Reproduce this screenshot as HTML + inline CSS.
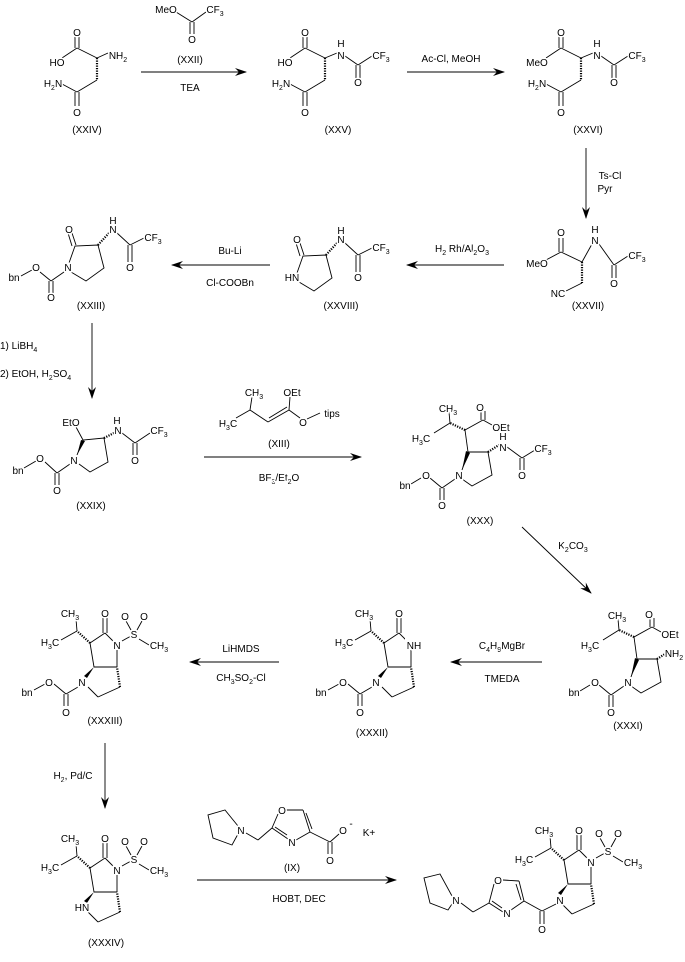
<!DOCTYPE html>
<html><head><meta charset="utf-8"><style>
html,body{margin:0;padding:0;background:#fff;}
svg{display:block;}
text{font-family:"Liberation Sans",sans-serif;font-size:10px;fill:#000;text-anchor:middle;stroke:#fff;stroke-width:3px;paint-order:stroke;}
line,polyline,path{stroke:#000;stroke-width:0.9;fill:none;}
.w{fill:#000;stroke:none;}
.h{stroke-dasharray:1.2 1.3;stroke-width:2.2;}
</style></head><body>
<svg width="685" height="962" viewBox="0 0 685 962" xmlns="http://www.w3.org/2000/svg">
<defs>
<marker id="ah" markerWidth="12" markerHeight="8" refX="11" refY="4" orient="auto" markerUnits="userSpaceOnUse"><path d="M0,0 L12,4 L0,8 L4,4 Z" style="fill:#000;stroke:none"/></marker>
</defs>

<line x1="141" y1="72" x2="246" y2="72" marker-end="url(#ah)"/>
<line x1="407" y1="72" x2="504" y2="72" marker-end="url(#ah)"/>
<line x1="586" y1="148" x2="586" y2="218" marker-end="url(#ah)"/>
<line x1="504" y1="265" x2="407" y2="265" marker-end="url(#ah)"/>
<line x1="270" y1="265" x2="172" y2="265" marker-end="url(#ah)"/>
<line x1="92" y1="323" x2="92" y2="398" marker-end="url(#ah)"/>
<line x1="204" y1="457" x2="361" y2="457" marker-end="url(#ah)"/>
<line x1="522" y1="527" x2="591" y2="593" marker-end="url(#ah)"/>
<line x1="542" y1="662" x2="451" y2="662" marker-end="url(#ah)"/>
<line x1="279" y1="662" x2="190" y2="662" marker-end="url(#ah)"/>
<line x1="105" y1="743" x2="105" y2="808" marker-end="url(#ah)"/>
<line x1="197" y1="880" x2="396" y2="880" marker-end="url(#ah)"/>

<text x="190" y="63">(XXII)</text>
<text x="190" y="91">TEA</text>
<text x="451" y="62">Ac-Cl,  MeOH</text>
<text x="610" y="179">Ts-Cl</text>
<text x="605" y="192">Pyr</text>
<text x="462" y="252">H<tspan font-size="7" dy="3">2</tspan><tspan dy="-3"> Rh/Al</tspan><tspan font-size="7" dy="3">2</tspan><tspan dy="-3">O</tspan><tspan font-size="7" dy="3">3</tspan></text>
<text x="230" y="254">Bu-Li</text>
<text x="230" y="286">Cl-COOBn</text>
<text x="0" y="349" style="text-anchor:start">1) LiBH<tspan font-size="7" dy="3">4</tspan></text>
<text x="0" y="377" style="text-anchor:start">2) EtOH, H<tspan font-size="7" dy="3">2</tspan><tspan dy="-3">SO</tspan><tspan font-size="7" dy="3">4</tspan></text>
<text x="279" y="447">(XIII)</text>
<text x="279" y="481">BF<tspan font-size="7" dy="3">3</tspan><tspan dy="-3">/Et</tspan><tspan font-size="7" dy="3">2</tspan><tspan dy="-3">O</tspan></text>
<text x="573" y="549">K<tspan font-size="7" dy="3">2</tspan><tspan dy="-3">CO</tspan><tspan font-size="7" dy="3">3</tspan></text>
<text x="502" y="649">C<tspan font-size="7" dy="3">4</tspan><tspan dy="-3">H</tspan><tspan font-size="7" dy="3">9</tspan><tspan dy="-3">MgBr</tspan></text>
<text x="502" y="682">TMEDA</text>
<text x="241" y="652">LiHMDS</text>
<text x="241" y="681">CH<tspan font-size="7" dy="3">3</tspan><tspan dy="-3">SO</tspan><tspan font-size="7" dy="3">2</tspan><tspan dy="-3">-Cl</tspan></text>
<text x="73" y="779">H<tspan font-size="7" dy="3">2</tspan><tspan dy="-3">, Pd/C</tspan></text>
<text x="299" y="902">HOBT, DEC</text>

<line x1="176" y1="12" x2="192" y2="22"/><line x1="192" y1="22" x2="206" y2="12"/>
<line x1="190" y1="22" x2="190" y2="34"/><line x1="194" y1="22" x2="194" y2="34"/>
<text x="166" y="13">MeO</text>
<text x="215" y="13">CF<tspan font-size="7" dy="3">3</tspan></text>
<text x="192" y="43">O</text>

<g id="aa">
<line x1="75" y1="36" x2="75" y2="48"/><line x1="79" y1="36" x2="79" y2="48"/>
<line x1="77" y1="48" x2="62" y2="58"/>
<line x1="77" y1="48" x2="97" y2="58"/>
<line class="h" x1="97" y1="58" x2="97" y2="80"/>
<line x1="97" y1="80" x2="77" y2="92"/>
<line x1="77" y1="92" x2="62" y2="84"/>
<line x1="75" y1="92" x2="75" y2="106"/><line x1="79" y1="92" x2="79" y2="106"/>
<text x="77" y="36">O</text>
<text x="53" y="87">H<tspan font-size="7" dy="3">2</tspan><tspan dy="-3">N</tspan></text>
<text x="77" y="116">O</text>
</g>
<line x1="97" y1="58" x2="108" y2="53"/>
<text x="57" y="66">HO</text>
<text x="118" y="59">NH<tspan font-size="7" dy="3">2</tspan></text>
<text x="87" y="133">(XXIV)</text>

<use href="#aa" x="228" y="0"/>
<text x="285" y="66">HO</text>
<g id="tfa">
<line x1="325" y1="58" x2="337" y2="53"/>
<line x1="345" y1="56" x2="358" y2="65"/>
<line x1="358" y1="65" x2="372" y2="56"/>
<line x1="356" y1="65" x2="356" y2="78"/><line x1="360" y1="65" x2="360" y2="78"/>
<text x="341" y="47">H</text>
<text x="341" y="59">N</text>
<text x="381" y="59">CF<tspan font-size="7" dy="3">3</tspan></text>
<text x="358" y="86">O</text>
</g>
<text x="338" y="133">(XXV)</text>

<use href="#aa" x="484" y="0"/>
<use href="#tfa" x="256" y="0"/>
<text x="537" y="66">MeO</text>
<text x="588" y="133">(XXVI)</text>

<line x1="559" y1="238" x2="559" y2="252"/><line x1="563" y1="238" x2="563" y2="252"/>
<line x1="561" y1="252" x2="546" y2="260"/>
<line x1="561" y1="252" x2="582" y2="262"/>
<line x1="582" y1="262" x2="592" y2="244"/>
<line class="h" x1="582" y1="262" x2="582" y2="283"/>
<line x1="582" y1="283" x2="566" y2="291"/>
<line x1="599" y1="244" x2="614" y2="265"/>
<line x1="614" y1="265" x2="628" y2="256"/>
<line x1="612" y1="265" x2="612" y2="278"/><line x1="616" y1="265" x2="616" y2="278"/>
<text x="561" y="236">O</text>
<text x="595" y="233">H</text>
<text x="595" y="244">N</text>
<text x="637" y="259">CF<tspan font-size="7" dy="3">3</tspan></text>
<text x="537" y="267">MeO</text>
<text x="614" y="287">O</text>
<text x="558" y="297">NC</text>
<text x="588" y="309">(XXVII)</text>

<g id="lac">
<polyline points="297,273 303,256 326,255 332,278 314,291 299,282"/>
<line x1="300" y1="256" x2="296" y2="243"/><line x1="304" y1="255" x2="300" y2="243"/>
<line class="h" x1="326" y1="255" x2="337" y2="243"/>
<line x1="345" y1="243" x2="358" y2="255"/>
<line x1="358" y1="255" x2="372" y2="248"/>
<line x1="356" y1="255" x2="356" y2="272"/><line x1="360" y1="255" x2="360" y2="272"/>
<text x="297" y="243">O</text>
<text x="341" y="234">H</text>
<text x="341" y="243">N</text>
<text x="381" y="251">CF<tspan font-size="7" dy="3">3</tspan></text>
<text x="358" y="281">O</text>
</g>
<text x="292" y="281">HN</text>
<text x="341" y="309">(XXVIII)</text>

<use href="#lac" x="-228" y="-10"/>
<text x="68" y="271">N</text>
<line x1="64" y1="272" x2="51" y2="281"/>
<line x1="51" y1="281" x2="40" y2="272"/>
<line x1="32" y1="270" x2="21" y2="276"/>
<line x1="49" y1="281" x2="49" y2="293"/><line x1="53" y1="281" x2="53" y2="293"/>
<text x="36" y="271">O</text>
<text x="14" y="281">bn</text>
<text x="51" y="301">O</text>
<text x="91" y="309">(XXIII)</text>

<polyline points="77,455 83,440 104,438 108,462 90,472 79,464"/>
<path class="w" d="M77,455 L81,440 L85,441 Z"/>
<line x1="83" y1="440" x2="76" y2="427"/>
<line class="h" x1="104" y1="438" x2="114" y2="433"/>
<line x1="122" y1="433" x2="135" y2="443"/>
<line x1="135" y1="443" x2="150" y2="433"/>
<line x1="133" y1="443" x2="133" y2="455"/><line x1="137" y1="443" x2="137" y2="455"/>
<line x1="70" y1="464" x2="57" y2="473"/>
<line x1="57" y1="473" x2="45" y2="462"/>
<line x1="36" y1="461" x2="24" y2="468"/>
<line x1="55" y1="473" x2="55" y2="485"/><line x1="59" y1="473" x2="59" y2="485"/>
<text x="71" y="426">EtO</text>
<text x="117" y="424">H</text>
<text x="118" y="434">N</text>
<text x="159" y="434">CF<tspan font-size="7" dy="3">3</tspan></text>
<text x="135" y="464">O</text>
<text x="74" y="464">N</text>
<text x="40" y="462">O</text>
<text x="18" y="474">bn</text>
<text x="57" y="494">O</text>
<text x="91" y="509">(XXIX)</text>

<line x1="236" y1="418" x2="250" y2="410"/>
<line x1="250" y1="410" x2="252" y2="397"/>
<line x1="250" y1="410" x2="268" y2="422"/>
<line x1="268" y1="422" x2="289" y2="410"/><line x1="269" y1="418" x2="287" y2="407"/>
<line x1="289" y1="410" x2="290" y2="397"/>
<line x1="289" y1="410" x2="300" y2="418"/>
<line x1="307" y1="419" x2="320" y2="413"/>
<text x="254" y="396">CH<tspan font-size="7" dy="3">3</tspan></text>
<text x="292" y="396">OEt</text>
<text x="228" y="427">H<tspan font-size="7" dy="3">3</tspan><tspan dy="-3">C</tspan></text>
<text x="303" y="426">O</text>
<text x="332" y="417">tips</text>

<g id="core">
<polyline points="462,470 468,452 488,452 492,475 472,486 462,479"/>
<path class="w" d="M462,470 L466,451 L470,453 Z"/>
<line x1="468" y1="452" x2="465" y2="430"/>
<line x1="465" y1="430" x2="483" y2="420"/>
<line x1="481" y1="420" x2="481" y2="411"/><line x1="485" y1="420" x2="485" y2="411"/>
<line x1="483" y1="420" x2="492" y2="425"/>
<line class="h" x1="465" y1="430" x2="450" y2="423"/>
<line x1="450" y1="423" x2="449" y2="412"/>
<line x1="450" y1="423" x2="434" y2="433"/>
<line x1="455" y1="479" x2="442" y2="488"/>
<line x1="442" y1="488" x2="430" y2="478"/>
<line x1="421" y1="478" x2="411" y2="484"/>
<line x1="440" y1="488" x2="440" y2="500"/><line x1="444" y1="488" x2="444" y2="500"/>
<text x="448" y="412">CH<tspan font-size="7" dy="3">3</tspan></text>
<text x="480" y="411">O</text>
<text x="501" y="431">OEt</text>
<text x="421" y="442">H<tspan font-size="7" dy="3">3</tspan><tspan dy="-3">C</tspan></text>
<text x="459" y="479">N</text>
<text x="426" y="479">O</text>
<text x="405" y="489">bn</text>
<text x="442" y="509">O</text>
</g>
<line class="h" x1="488" y1="452" x2="499" y2="445"/>
<line x1="507" y1="447" x2="522" y2="458"/>
<line x1="522" y1="458" x2="535" y2="450"/>
<line x1="520" y1="458" x2="520" y2="470"/><line x1="524" y1="458" x2="524" y2="470"/>
<text x="503" y="440">H</text>
<text x="503" y="451">N</text>
<text x="543" y="452">CF<tspan font-size="7" dy="3">3</tspan></text>
<text x="522" y="479">O</text>
<text x="480" y="524">(XXX)</text>

<use href="#core" x="169" y="207"/>
<line class="h" x1="657" y1="659" x2="665" y2="654"/>
<text x="674" y="657">NH<tspan font-size="7" dy="3">2</tspan></text>
<text x="628" y="729">(XXXI)</text>

<g id="bic" transform="translate(117,645)">
<line x1="-4" y1="-4" x2="-12" y2="-12"/>
<line x1="-14" y1="-12" x2="-14" y2="-27"/><line x1="-10" y1="-12" x2="-10" y2="-27"/>
<line x1="-12" y1="-12" x2="-27" y2="-2"/>
<line x1="-27" y1="-2" x2="-23" y2="22"/>
<line x1="-23" y1="22" x2="0" y2="22"/>
<line x1="0" y1="22" x2="0" y2="5"/>
<path class="w" d="M-23,22 L-33,31 L-30,33 Z"/>
<line x1="-29" y1="42" x2="-19" y2="52"/>
<line x1="-19" y1="52" x2="3" y2="42"/>
<line class="h" x1="3" y1="42" x2="0" y2="22"/>
<line class="h" x1="-27" y1="-2" x2="-40" y2="-14"/>
<line x1="-40" y1="-14" x2="-41" y2="-26"/>
<line x1="-40" y1="-14" x2="-56" y2="-5"/>
<text x="0" y="4">N</text>
<text x="-12" y="-28">O</text>
<text x="-47" y="-28">CH<tspan font-size="7" dy="3">3</tspan></text>
<text x="-67" y="1">H<tspan font-size="7" dy="3">3</tspan><tspan dy="-3">C</tspan></text>
</g>
<g id="cbz">
<line x1="78" y1="687" x2="66" y2="694"/>
<line x1="66" y1="694" x2="54" y2="684"/>
<line x1="45" y1="684" x2="34" y2="690"/>
<line x1="64" y1="694" x2="64" y2="706"/><line x1="68" y1="694" x2="68" y2="706"/>
<text x="82" y="686">N</text>
<text x="49" y="686">O</text>
<text x="27" y="696">bn</text>
<text x="66" y="716">O</text>
</g>
<g id="ms" transform="translate(117,645)">
<line x1="5" y1="-4" x2="14" y2="-9"/>
<line x1="14" y1="-15" x2="9" y2="-24"/><line x1="20" y1="-15" x2="25" y2="-24"/>
<line x1="22" y1="-6" x2="32" y2="0"/>
<text x="17" y="-7">S</text>
<text x="8" y="-25">O</text>
<text x="27" y="-25">O</text>
<text x="42" y="4">CH<tspan font-size="7" dy="3">3</tspan></text>
</g>
<text x="105" y="724">(XXXIII)</text>

<use href="#bic" x="294" y="0"/>
<use href="#cbz" x="294" y="0"/>
<rect x="405" y="638" width="10" height="12" fill="#fff"/>
<text x="414" y="649">NH</text>
<text x="372" y="736">(XXXII)</text>

<use href="#bic" x="0" y="225"/>
<use href="#ms" x="0" y="225"/>
<text x="82" y="911">HN</text>
<text x="106" y="946">(XXXIV)</text>

<polyline points="238,826 225,810 208,815 213,838 232,845 238,834"/>
<line x1="246" y1="833" x2="258" y2="840"/>
<line x1="258" y1="840" x2="272" y2="828"/>
<line x1="272" y1="828" x2="278" y2="814"/>
<line x1="286" y1="810" x2="303" y2="810"/>
<line x1="303" y1="810" x2="310" y2="832"/><line x1="306" y1="813" x2="312" y2="829"/>
<line x1="310" y1="832" x2="296" y2="840"/>
<line x1="288" y1="839" x2="272" y2="828"/><line x1="287" y1="835" x2="275" y2="827"/>
<line x1="310" y1="832" x2="330" y2="842"/>
<line x1="330" y1="842" x2="339" y2="834"/>
<line x1="328" y1="842" x2="328" y2="854"/><line x1="332" y1="842" x2="332" y2="854"/>
<text x="241" y="834">N</text>
<text x="282" y="814">O</text>
<text x="292" y="846">N</text>
<text x="343" y="834">O</text>
<text x="351" y="827" font-size="12">-</text>
<text x="369" y="836">K+</text>
<text x="330" y="864">O</text>
<text x="292" y="871">(IX)</text>

<use href="#bic" x="474" y="217"/>
<use href="#ms" x="474" y="217"/>
<text x="560" y="904">N</text>
<line x1="556" y1="904" x2="542" y2="911"/>
<line x1="542" y1="911" x2="524" y2="901"/>
<line x1="540" y1="911" x2="540" y2="924"/><line x1="544" y1="911" x2="544" y2="924"/>
<text x="542" y="933">O</text>
<line x1="524" y1="901" x2="519" y2="881"/><line x1="521" y1="900" x2="516" y2="884"/>
<line x1="519" y1="881" x2="503" y2="880"/>
<line x1="494" y1="884" x2="489" y2="903"/>
<line x1="489" y1="903" x2="503" y2="912"/><line x1="492" y1="901" x2="502" y2="908"/>
<line x1="511" y1="910" x2="524" y2="901"/>
<line x1="489" y1="903" x2="473" y2="912"/>
<line x1="473" y1="912" x2="461" y2="903"/>
<polyline points="452,896 440,874 424,878 430,903 448,910 452,904"/>
<text x="498" y="884">O</text>
<text x="507" y="917">N</text>
<text x="456" y="904">N</text>
</svg>
</body></html>
